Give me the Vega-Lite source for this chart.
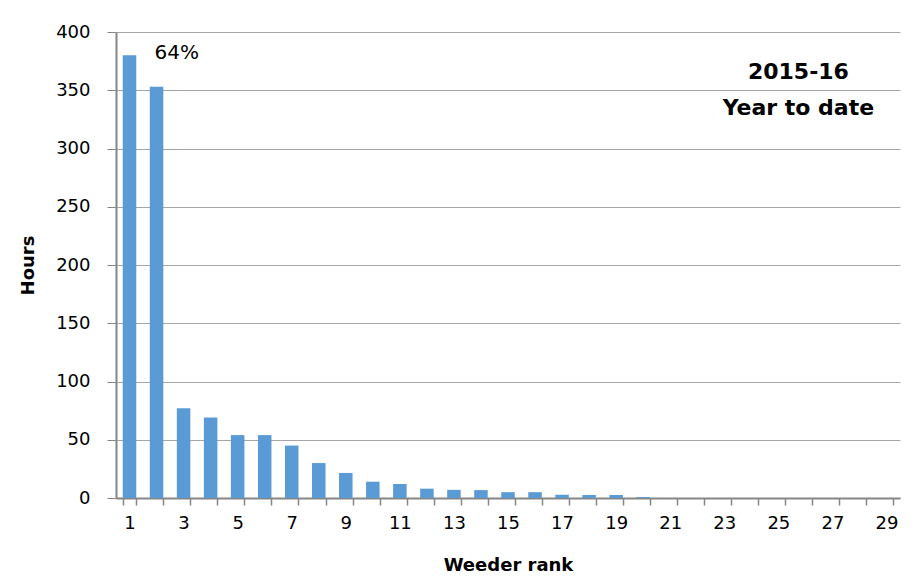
{
  "$schema": "https://vega.github.io/schema/vega-lite/v6.json",
  "width": 784,
  "height": 466,
  "autosize": "none",
  "padding": {"left": 116, "top": 32, "right": 15, "bottom": 80},
  "background": "white",
  "config": {
    "font": "DejaVu Sans",
    "view": {"stroke": null}
  },
  "layer": [
    {
      "data": {
        "values": [
          {"rank": 1, "hours": 380},
          {"rank": 2, "hours": 353},
          {"rank": 3, "hours": 77},
          {"rank": 4, "hours": 69},
          {"rank": 5, "hours": 54},
          {"rank": 6, "hours": 54},
          {"rank": 7, "hours": 45},
          {"rank": 8, "hours": 30},
          {"rank": 9, "hours": 21.5},
          {"rank": 10, "hours": 14},
          {"rank": 11, "hours": 12},
          {"rank": 12, "hours": 8},
          {"rank": 13, "hours": 7},
          {"rank": 14, "hours": 6.8},
          {"rank": 15, "hours": 5},
          {"rank": 16, "hours": 5},
          {"rank": 17, "hours": 2.8},
          {"rank": 18, "hours": 2.6},
          {"rank": 19, "hours": 2.6},
          {"rank": 20, "hours": 0.8},
          {"rank": 21, "hours": 0},
          {"rank": 22, "hours": 0},
          {"rank": 23, "hours": 0},
          {"rank": 24, "hours": 0},
          {"rank": 25, "hours": 0},
          {"rank": 26, "hours": 0},
          {"rank": 27, "hours": 0},
          {"rank": 28, "hours": 0},
          {"rank": 29, "hours": 0}
        ]
      },
      "mark": {"type": "bar", "color": "#5B9BD5"},
      "encoding": {
        "x": {
          "field": "rank",
          "type": "ordinal",
          "scale": {"paddingInner": 0.5, "paddingOuter": 0.25},
          "axis": {
            "title": "Weeder rank",
            "titleFontSize": 18,
            "titleFontWeight": "bold",
            "titleColor": "black",
            "titlePadding": 24,
            "labelAngle": 0,
            "labelFontSize": 18,
            "labelColor": "black",
            "labelPadding": 9,
            "labelExpr": "datum.value % 2 == 1 ? datum.label : ''",
            "tickBand": "extent",
            "tickSize": 7,
            "tickColor": "#868686",
            "tickWidth": 1.5,
            "domainColor": "#868686",
            "domainWidth": 2,
            "grid": false
          }
        },
        "y": {
          "field": "hours",
          "type": "quantitative",
          "scale": {"domain": [0, 400], "nice": false},
          "axis": {
            "title": "Hours",
            "titleFontSize": 18,
            "titleFontWeight": "bold",
            "titleColor": "black",
            "titlePadding": 18,
            "labelFontSize": 18,
            "labelColor": "black",
            "labelPadding": 17,
            "values": [0, 50, 100, 150, 200, 250, 300, 350, 400],
            "tickSize": 9,
            "tickColor": "#868686",
            "domainColor": "#868686",
            "domainWidth": 2,
            "gridColor": "#a6a6a6",
            "gridWidth": 1.2
          }
        }
      }
    },
    {
      "data": {"values": [{"label": "64%", "rank": 2, "hours": 382}]},
      "mark": {"type": "text", "align": "left", "baseline": "middle", "fontSize": 20, "fontWeight": "normal", "color": "black", "dx": -2},
      "encoding": {
        "text": {"field": "label"},
        "x": {"field": "rank", "type": "ordinal"},
        "y": {"field": "hours", "type": "quantitative"}
      }
    },
    {
      "data": {"values": [{"rank": 26, "hours": 374}]},
      "mark": {"type": "text", "align": "center", "baseline": "top", "fontSize": 22, "fontWeight": "bold", "color": "black", "lineHeight": 36, "dx": -7},
      "encoding": {
        "text": {"value": ["2015-16", "Year to date"]},
        "x": {"field": "rank", "type": "ordinal"},
        "y": {"field": "hours", "type": "quantitative"}
      }
    }
  ]
}
